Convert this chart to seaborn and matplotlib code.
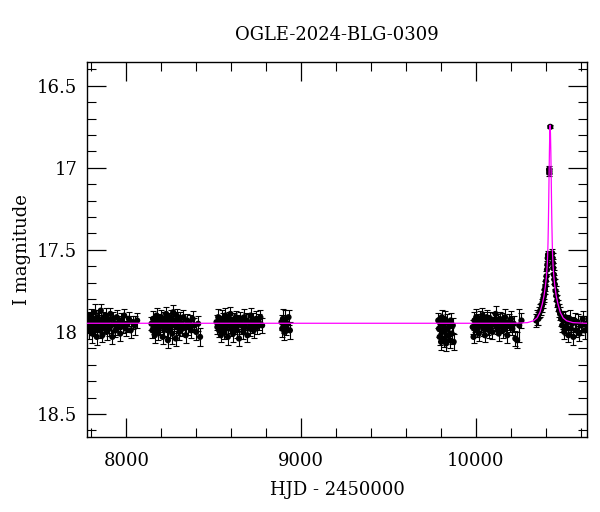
import numpy as np
import pandas as pd
import matplotlib
matplotlib.use("Agg")
import matplotlib.pyplot as plt
import seaborn as sns
from matplotlib.ticker import MultipleLocator

# ---------------- data ----------------
title = "OGLE-2024-BLG-0309"
xlabel = "HJD - 2450000"
ylabel = "I magnitude"

s1_t = [7779, 7783, 7788, 7792, 7796, 7801, 7805, 7809, 7814, 7818, 7822, 7827, 7831, 7836, 7840, 7845,
        7849, 7854, 7858, 7863, 7868, 7872, 7877, 7882, 7887, 7892, 7898, 7903, 7909, 7914, 7920, 7926,
        7932, 7938, 7945, 7951, 7958, 7965, 7972, 7980, 7988, 7997, 8006, 8015, 8025, 8036, 8048, 8062]
s1_m = [17.96, 17.92, 17.99, 17.94, 17.90, 17.97, 18.01, 17.93, 17.95, 17.88, 17.98, 17.94, 18.03, 17.91,
        17.96, 17.93, 17.99, 17.87, 17.95, 18.02, 17.92, 17.97, 17.94, 17.90, 18.00, 17.95, 17.93, 17.98,
        17.89, 17.96, 18.03, 17.92, 17.95, 17.99, 17.91, 17.97, 17.94, 18.01, 17.93, 17.96, 17.90, 17.98,
        17.95, 17.92, 17.99, 17.94, 17.96, 17.93]
s1_e = [0.045, 0.040, 0.050, 0.038, 0.042, 0.047, 0.055, 0.040, 0.044, 0.052, 0.046, 0.039, 0.050, 0.043,
        0.041, 0.048, 0.045, 0.040, 0.053, 0.044, 0.042, 0.038, 0.047, 0.045, 0.051, 0.040, 0.043, 0.046,
        0.039, 0.048, 0.044, 0.041, 0.050, 0.042, 0.045, 0.047, 0.040, 0.043, 0.046, 0.049, 0.041, 0.044,
        0.048, 0.042, 0.045, 0.040, 0.060, 0.043]

s2_t = [8144, 8149, 8153, 8158, 8163, 8168, 8173, 8178, 8183, 8188, 8193, 8198, 8203, 8208, 8213, 8218,
        8223, 8228, 8233, 8238, 8243, 8248, 8253, 8258, 8263, 8268, 8273, 8278, 8283, 8288, 8293, 8298,
        8303, 8309, 8315, 8321, 8327, 8333, 8340, 8347, 8354, 8362, 8370, 8379, 8389, 8400, 8411, 8422]
s2_m = [17.95, 17.99, 17.92, 17.97, 18.02, 17.94, 17.90, 17.96, 18.00, 17.93, 17.97, 17.91, 17.95, 18.03,
        17.92, 17.98, 17.94, 17.89, 17.96, 18.05, 17.93, 17.99, 17.91, 17.95, 18.01, 17.88, 17.96, 17.93,
        18.04, 17.90, 17.97, 17.94, 18.00, 17.92, 17.95, 17.98, 17.91, 17.96, 18.02, 17.93, 17.97, 17.94,
        17.99, 17.92, 17.96, 18.00, 17.95, 18.03]
s2_e = [0.040, 0.045, 0.050, 0.042, 0.047, 0.040, 0.044, 0.052, 0.046, 0.041, 0.048, 0.043, 0.050, 0.045,
        0.040, 0.047, 0.055, 0.042, 0.070, 0.050, 0.044, 0.046, 0.041, 0.048, 0.065, 0.043, 0.045, 0.050,
        0.047, 0.042, 0.046, 0.041, 0.049, 0.044, 0.040, 0.047, 0.043, 0.045, 0.050, 0.042, 0.046, 0.041,
        0.044, 0.048, 0.043, 0.046, 0.045, 0.055]

s3_t = [8516, 8521, 8526, 8531, 8536, 8541, 8546, 8551, 8556, 8561, 8566, 8571, 8576, 8581, 8586, 8591,
        8596, 8601, 8606, 8611, 8616, 8621, 8627, 8633, 8639, 8645, 8651, 8657, 8663, 8669, 8675, 8681,
        8687, 8693, 8699, 8705, 8711, 8717, 8723, 8729, 8736, 8743, 8750, 8758, 8767, 8777]
s3_m = [17.94, 17.97, 17.91, 17.99, 17.95, 18.02, 17.92, 17.96, 17.93, 18.00, 17.90, 17.97, 17.94, 18.03,
        17.92, 17.96, 17.89, 17.98, 17.95, 18.01, 17.93, 17.97, 17.91, 17.99, 17.94, 18.04, 17.92, 17.96,
        17.95, 18.00, 17.91, 17.97, 17.93, 18.02, 17.94, 17.98, 17.90, 17.96, 17.93, 17.99, 17.95, 17.92,
        17.97, 17.94, 17.91, 17.96]
s3_e = [0.045, 0.040, 0.050, 0.043, 0.047, 0.041, 0.052, 0.044, 0.046, 0.040, 0.048, 0.043, 0.045, 0.050,
        0.041, 0.047, 0.044, 0.046, 0.042, 0.049, 0.043, 0.045, 0.040, 0.048, 0.044, 0.046, 0.042, 0.050,
        0.045, 0.041, 0.047, 0.043, 0.046, 0.044, 0.049, 0.042, 0.045, 0.048, 0.043, 0.046, 0.041, 0.050,
        0.044, 0.047, 0.043, 0.045]

s4_t = [8888, 8892, 8896, 8900, 8905, 8910, 8915, 8921, 8928, 8936]
s4_m = [17.94, 17.98, 17.92, 17.96, 18.00, 17.93, 17.97, 17.95, 17.91, 17.99]
s4_e = [0.045, 0.050, 0.060, 0.044, 0.048, 0.065, 0.046, 0.050, 0.045, 0.052]

s5_t = [9785, 9789, 9793, 9797, 9801, 9805, 9809, 9813, 9817, 9821, 9825, 9830, 9835, 9840, 9845, 9850,
        9856, 9862, 9868, 9873]
s5_m = [17.93, 17.98, 18.03, 17.95, 18.06, 17.91, 18.00, 17.96, 18.04, 17.92, 17.99, 18.07, 17.94, 18.02,
        17.97, 18.05, 17.93, 18.01, 17.96, 18.06]
s5_e = [0.045, 0.050, 0.048, 0.044, 0.052, 0.046, 0.055, 0.043, 0.050, 0.047, 0.060, 0.045, 0.049, 0.044,
        0.052, 0.046, 0.048, 0.065, 0.045, 0.050]

s6_t = [9982, 9987, 9992, 9997, 10002, 10007, 10012, 10017, 10022, 10027, 10032, 10037, 10042, 10047,
        10052, 10057, 10062, 10067, 10072, 10077, 10083, 10089, 10095, 10101, 10107, 10113, 10119, 10125,
        10131, 10137, 10143, 10149, 10155, 10161, 10167, 10173, 10180, 10187, 10194, 10201, 10209, 10217,
        10226, 10236, 10248, 10261]
s6_m = [17.97, 18.03, 17.93, 17.96, 17.91, 17.99, 17.94, 18.01, 17.92, 17.96, 17.95, 17.90, 17.98, 17.93,
        18.02, 17.95, 17.91, 17.97, 17.94, 17.99, 17.92, 17.96, 18.00, 17.93, 17.95, 17.89, 17.97, 17.94,
        18.01, 17.92, 17.96, 17.93, 17.99, 17.95, 17.91, 17.97, 18.02, 17.94, 17.96, 17.92, 17.98, 17.95,
        18.04, 18.05, 17.96, 17.93]
s6_e = [0.045, 0.040, 0.050, 0.043, 0.047, 0.041, 0.052, 0.044, 0.046, 0.040, 0.048, 0.043, 0.045, 0.050,
        0.041, 0.047, 0.044, 0.046, 0.042, 0.049, 0.043, 0.045, 0.040, 0.048, 0.044, 0.046, 0.042, 0.050,
        0.045, 0.041, 0.047, 0.043, 0.046, 0.044, 0.049, 0.042, 0.045, 0.048, 0.043, 0.046, 0.041, 0.050,
        0.044, 0.047, 0.100, 0.045]

ev_t = [10345, 10352, 10358, 10364, 10369, 10374, 10378, 10382, 10386, 10389, 10392, 10395, 10398, 10401,
        10404, 10407, 10409, 10411, 10413, 10419, 10420, 10421, 10426, 10437, 10439, 10441, 10443, 10446,
        10449, 10452, 10456, 10460, 10465, 10470, 10476, 10482, 10488, 10494, 10500, 10506, 10512, 10518,
        10524, 10530, 10537, 10544, 10551, 10558, 10566, 10574, 10583, 10592, 10602, 10612, 10622, 10630]
ev_m = [17.93, 17.91, 17.92, 17.88, 17.87, 17.86, 17.84, 17.82, 17.80, 17.78, 17.77, 17.74, 17.72, 17.69,
        17.66, 17.62, 17.59, 17.55, 17.53, 17.01, 17.03, 17.02, 16.75, 17.52, 17.55, 17.58, 17.61, 17.65,
        17.68, 17.71, 17.75, 17.78, 17.81, 17.84, 17.87, 17.89, 17.92, 17.96, 17.93, 18.00, 17.91, 17.97,
        17.94, 18.02, 17.92, 17.98, 17.95, 18.03, 17.93, 17.99, 17.94, 18.01, 17.96, 17.92, 17.99, 17.95]
ev_e = [0.040, 0.045, 0.040, 0.035, 0.040, 0.035, 0.040, 0.035, 0.030, 0.035, 0.030, 0.030, 0.030, 0.028,
        0.030, 0.028, 0.025, 0.030, 0.025, 0.020, 0.020, 0.020, 0.010, 0.025, 0.030, 0.025, 0.030, 0.028,
        0.030, 0.030, 0.032, 0.030, 0.035, 0.035, 0.040, 0.040, 0.045, 0.040, 0.050, 0.045, 0.040, 0.050,
        0.045, 0.040, 0.055, 0.045, 0.040, 0.050, 0.045, 0.040, 0.050, 0.045, 0.060, 0.045, 0.050, 0.045]

model_t = [7775, 10225, 10295, 10330, 10350, 10367, 10380, 10390, 10398, 10404, 10408, 10411, 10413,
           10415, 10417, 10419, 10421, 10423, 10425, 10427, 10429, 10431, 10433, 10435, 10437, 10439,
           10442, 10446, 10452, 10460, 10470, 10483, 10500, 10520, 10555, 10625, 10636]
model_m = [17.947, 17.947, 17.943, 17.932, 17.915, 17.88, 17.83, 17.78, 17.72, 17.66, 17.60, 17.53,
           17.45, 17.34, 17.20, 17.04, 16.90, 16.79, 16.74, 16.79, 16.90, 17.04, 17.20, 17.34, 17.45,
           17.53, 17.60, 17.66, 17.72, 17.78, 17.83, 17.88, 17.915, 17.932, 17.943, 17.947, 17.947]

x_ticks = [8000, 9000, 10000]
y_ticks = [16.5, 17.0, 17.5, 18.0, 18.5]
y_ticklabels = ["16.5", "17", "17.5", "18", "18.5"]

# ---------------- build tables ----------------
obs = pd.DataFrame({
    "hjd": s1_t + s2_t + s3_t + s4_t + s5_t + s6_t + ev_t,
    "mag": s1_m + s2_m + s3_m + s4_m + s5_m + s6_m + ev_m,
    "err": s1_e + s2_e + s3_e + s4_e + s5_e + s6_e + ev_e,
})
model = pd.DataFrame({"hjd": model_t, "mag": model_m})

# ---------------- plot ----------------
sns.set_style("ticks")
plt.rcParams["font.family"] = ["DejaVu Serif"]
plt.rcParams["mathtext.fontset"] = "dejavuserif"
for key in ["text.color", "axes.labelcolor", "xtick.color", "ytick.color", "axes.edgecolor"]:
    plt.rcParams[key] = "black"

fig = plt.figure(figsize=(6.0, 5.12), dpi=100)
ax = fig.add_axes([87 / 600, 1 - 437 / 512, 500 / 600, 375 / 512])

ax.errorbar(obs["hjd"], obs["mag"], yerr=obs["err"], fmt="none", ecolor="black",
            elinewidth=0.8, capsize=2.2, capthick=0.8, zorder=2)
sns.scatterplot(data=obs, x="hjd", y="mag", ax=ax, color="black", s=20,
                edgecolor="none", linewidth=0, zorder=3, legend=False)
sns.lineplot(data=model, x="hjd", y="mag", ax=ax, color="#ff00ff", linewidth=0.9,
             sort=False, estimator=None, zorder=4)

ax.set_xlim(7775, 10636)
ax.set_ylim(18.64, 16.355)

ax.set_xticks(x_ticks)
ax.set_xticklabels([str(v) for v in x_ticks])
ax.set_yticks(y_ticks)
ax.set_yticklabels(y_ticklabels)
ax.xaxis.set_minor_locator(MultipleLocator(200))
ax.yaxis.set_minor_locator(MultipleLocator(0.1))

ax.tick_params(which="both", direction="in", top=True, right=True, colors="black",
               labelsize=13, labelcolor="black")
ax.tick_params(which="major", length=13.5, width=0.9)
ax.tick_params(which="minor", length=6.8, width=0.8)
ax.tick_params(axis="x", which="major", pad=11)
ax.tick_params(axis="y", which="major", pad=7)
for sp in ax.spines.values():
    sp.set_visible(True)
    sp.set_linewidth(1.0)
    sp.set_color("black")

ax.set_xlabel(xlabel, fontsize=13, labelpad=8, color="black")
ax.set_ylabel(ylabel, fontsize=13, labelpad=4, color="black")
ax.set_title(title, fontsize=13, pad=16, color="black")

fig.savefig("out.png", dpi=100)
